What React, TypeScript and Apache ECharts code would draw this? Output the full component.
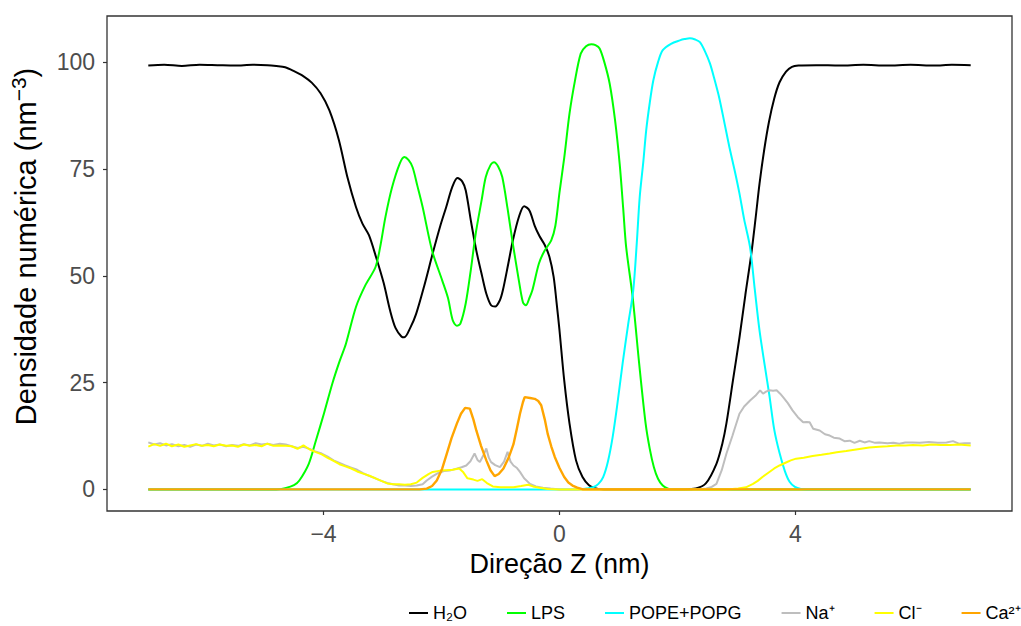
import React, { useEffect, useRef } from "react";
import * as echarts from "echarts";

const seriesNames = ["H₂O", "LPS", "POPE+POPG", "Na⁺", "Cl⁻", "Ca²⁺"];
const seriesColors = ["#000000", "#00FF00", "#00FFFF", "#BEBEBE", "#FFFF00", "#FFA500"];
const seriesWidths = [2, 2, 2, 2, 2, 2.4];
const xTicks = [-4, 0, 4];
const yTicks = [0, 25, 50, 75, 100];

const h2o = [
  [-6.97, 99.2], [-6.7, 99.4], [-6.4, 99.1], [-6.1, 99.4], [-5.8, 99.3], [-5.5, 99.2], [-5.2, 99.4],
  [-4.95, 99.3], [-4.8, 99.1], [-4.65, 98.8], [-4.5, 97.9], [-4.35, 96.8], [-4.2, 95.2], [-4.05, 92.7],
  [-3.9, 88.7], [-3.74, 81.8], [-3.59, 72.8], [-3.45, 66.1], [-3.34, 62.2], [-3.23, 59.5], [-3.11, 54.4],
  [-2.98, 48.3], [-2.87, 41.8], [-2.78, 37.8], [-2.68, 35.8], [-2.63, 35.6], [-2.53, 37.8], [-2.43, 41.1],
  [-2.29, 47.8], [-2.15, 55.2], [-2.02, 61.7], [-1.92, 66.1], [-1.82, 70.7], [-1.73, 72.9], [-1.65, 72.1],
  [-1.59, 70.0], [-1.5, 62.7], [-1.41, 55.9], [-1.31, 49.8], [-1.24, 45.8], [-1.16, 43.1], [-1.09, 42.8],
  [-1.01, 44.3], [-0.96, 46.6], [-0.87, 52.7], [-0.79, 58.3], [-0.69, 63.7], [-0.6, 66.3], [-0.51, 65.3],
  [-0.42, 61.7], [-0.34, 59.3], [-0.25, 57.2], [-0.17, 54.4], [-0.1, 49.8], [-0.05, 43.8], [0, 37.2],
  [0.08, 25.5], [0.17, 15.4], [0.28, 6.8], [0.39, 2.9], [0.5, 1.0], [0.6, 0.3], [0.75, 0], [1.2, 0],
  [1.7, 0], [2.12, 0], [2.31, 0.2], [2.48, 1.4], [2.66, 6.0], [2.76, 10.7], [2.83, 15.5], [2.94, 25.5],
  [3.05, 35.5], [3.15, 45.5], [3.25, 55.0], [3.32, 63.0], [3.39, 71.5], [3.47, 79.5], [3.55, 86.0],
  [3.64, 91.5], [3.73, 95.3], [3.84, 97.8], [3.94, 98.9], [4.05, 99.2], [4.35, 99.3], [4.75, 99.2],
  [5.15, 99.4], [5.55, 99.2], [5.95, 99.4], [6.35, 99.2], [6.65, 99.4], [6.97, 99.3],
];

const lps = [
  [-6.97, 0], [-4.8, 0], [-4.65, 0.3], [-4.5, 1.0], [-4.41, 2.1], [-4.25, 6.0], [-4.13, 11.4],
  [-3.99, 17.9], [-3.85, 24.8], [-3.73, 29.9], [-3.62, 34.1], [-3.45, 42.7], [-3.29, 47.8], [-3.12, 52.0],
  [-3.04, 56.7], [-2.95, 63.8], [-2.84, 70.6], [-2.71, 76.2], [-2.63, 77.8], [-2.56, 77.1], [-2.49, 75.4],
  [-2.41, 71.1], [-2.32, 66.1], [-2.16, 55.9], [-1.99, 49.0], [-1.89, 44.8], [-1.81, 39.6], [-1.74, 38.3],
  [-1.68, 38.8], [-1.59, 43.5], [-1.5, 51.7], [-1.42, 59.9], [-1.32, 67.7], [-1.25, 73.1], [-1.17, 75.9],
  [-1.11, 76.6], [-1.04, 75.6], [-0.97, 73.1], [-0.88, 65.7], [-0.8, 58.3], [-0.69, 49.0], [-0.62, 43.8],
  [-0.57, 43.1], [-0.51, 44.8], [-0.46, 46.6], [-0.35, 52.8], [-0.26, 55.7], [-0.14, 58.3], [-0.07, 61.7],
  [0, 69.5], [0.08, 77.6], [0.17, 88.0], [0.26, 95.5], [0.36, 102.0], [0.45, 103.7], [0.54, 104.2],
  [0.61, 104.0], [0.68, 103.2], [0.76, 100.0], [0.85, 95.0], [0.94, 86.6], [1.02, 76.2], [1.08, 65.7],
  [1.13, 56.7], [1.24, 45.0], [1.35, 29.5], [1.46, 15.4], [1.53, 9.5], [1.6, 5.2], [1.67, 2.5],
  [1.75, 0.9], [1.84, 0.2], [1.92, 0], [6.97, 0],
];

const pope = [
  [-6.97, 0], [0.3, 0], [0.45, 0.2], [0.57, 0.5], [0.66, 1.3], [0.74, 2.9], [0.82, 6.5], [0.9, 12.2],
  [0.98, 19.9], [1.07, 29.5], [1.16, 38.3], [1.25, 46.6], [1.31, 57.7], [1.36, 68.5], [1.42, 76.6],
  [1.47, 84.1], [1.53, 90.5], [1.59, 95.7], [1.67, 100.0], [1.75, 102.8], [1.89, 104.3], [2.04, 105.1],
  [2.12, 105.4], [2.21, 105.6], [2.3, 105.3], [2.38, 104.7], [2.46, 102.7], [2.55, 99.7], [2.63, 95.8],
  [2.71, 91.5], [2.8, 85.5], [2.88, 80.1], [2.97, 74.6], [3.05, 69.3], [3.13, 63.2], [3.23, 56.7],
  [3.31, 46.8], [3.39, 37.2], [3.48, 28.9], [3.56, 21.8], [3.64, 14.0], [3.73, 8.5], [3.82, 4.3],
  [3.9, 1.8], [3.99, 0.6], [4.09, 0.1], [4.2, 0], [6.97, 0],
];

const sodium = [
  [-6.97, 11.0], [-6.87, 10.5], [-6.77, 10.8], [-6.67, 10.3], [-6.57, 10.6], [-6.46, 10.1], [-6.36, 10.4],
  [-6.26, 10.0], [-6.16, 10.5], [-6.06, 10.2], [-5.96, 10.7], [-5.86, 10.3], [-5.76, 10.5], [-5.65, 10.1],
  [-5.55, 10.4], [-5.45, 10.2], [-5.35, 10.6], [-5.25, 10.3], [-5.15, 10.8], [-5.05, 10.5], [-4.95, 10.7],
  [-4.85, 10.4], [-4.74, 10.7], [-4.64, 10.5], [-4.54, 10.1], [-4.44, 9.7], [-4.34, 10.0], [-4.24, 9.5],
  [-4.14, 8.9], [-4.03, 8.4], [-3.93, 7.7], [-3.83, 6.8], [-3.73, 6.2], [-3.63, 5.6], [-3.53, 5.1],
  [-3.43, 4.6], [-3.33, 3.8], [-3.22, 3.1], [-3.12, 2.6], [-3.02, 2.0], [-2.92, 1.5], [-2.82, 1.2],
  [-2.72, 0.9], [-2.62, 0.9], [-2.52, 0.8], [-2.42, 0.9], [-2.32, 1.2], [-2.25, 2.1], [-2.16, 3.0],
  [-2.06, 3.8], [-1.96, 4.3], [-1.86, 4.4], [-1.76, 4.8], [-1.66, 5.2], [-1.58, 5.6], [-1.51, 6.6],
  [-1.44, 8.4], [-1.39, 6.9], [-1.35, 6.4], [-1.29, 8.0], [-1.24, 9.6], [-1.2, 7.5], [-1.16, 6.4],
  [-1.09, 5.7], [-1.01, 5.2], [-0.94, 6.5], [-0.88, 8.8], [-0.83, 6.5], [-0.78, 5.6], [-0.72, 5.0],
  [-0.67, 4.1], [-0.6, 2.6], [-0.5, 1.3], [-0.4, 0.7], [-0.28, 0.4], [-0.15, 0.2], [0, 0], [2.35, 0],
  [2.49, 0.2], [2.58, 0.6], [2.66, 1.3], [2.75, 4.5], [2.83, 8.4], [2.93, 12.5], [3.05, 17.7],
  [3.13, 19.4], [3.23, 20.8], [3.32, 21.9], [3.4, 23.2], [3.45, 22.4], [3.5, 22.9], [3.56, 23.2],
  [3.62, 23.1], [3.68, 23.2], [3.74, 22.4], [3.79, 21.6], [3.87, 20.2], [3.95, 18.5], [4.04, 16.9],
  [4.13, 15.7], [4.19, 15.8], [4.24, 15.7], [4.3, 14.2], [4.41, 13.8], [4.5, 12.9], [4.58, 12.6],
  [4.65, 12.1], [4.75, 11.9], [4.83, 11.3], [4.92, 11.4], [5.0, 10.9], [5.09, 11.4], [5.17, 11.0],
  [5.25, 11.3], [5.35, 10.9], [5.42, 11.0], [5.56, 10.8], [5.66, 10.9], [5.76, 10.7], [5.86, 11.0],
  [5.99, 11.0], [6.11, 10.9], [6.26, 11.1], [6.41, 10.9], [6.56, 11.0], [6.67, 11.3], [6.77, 10.7],
  [6.87, 10.8], [6.97, 10.8],
];

const chloride = [
  [-6.97, 10.0], [-6.87, 10.6], [-6.77, 10.2], [-6.67, 10.7], [-6.57, 10.1], [-6.46, 10.5], [-6.36, 10.0],
  [-6.26, 10.3], [-6.16, 10.6], [-6.06, 10.2], [-5.96, 10.4], [-5.86, 10.1], [-5.76, 10.5], [-5.65, 10.2],
  [-5.55, 10.3], [-5.45, 10.0], [-5.35, 10.5], [-5.25, 10.2], [-5.15, 10.4], [-5.05, 10.1], [-4.95, 10.7],
  [-4.85, 10.2], [-4.74, 10.3], [-4.64, 10.2], [-4.54, 10.1], [-4.44, 9.5], [-4.34, 10.3], [-4.24, 9.4],
  [-4.14, 8.8], [-4.03, 8.2], [-3.93, 7.4], [-3.83, 6.7], [-3.73, 5.9], [-3.63, 5.4], [-3.53, 4.9],
  [-3.43, 4.2], [-3.33, 3.7], [-3.22, 3.2], [-3.12, 2.6], [-3.02, 2.0], [-2.92, 1.4], [-2.82, 1.2],
  [-2.72, 1.2], [-2.62, 1.1], [-2.52, 1.2], [-2.42, 1.6], [-2.32, 2.7], [-2.22, 3.6], [-2.15, 4.1],
  [-2.02, 4.4], [-1.92, 4.5], [-1.81, 4.6], [-1.7, 4.9], [-1.63, 4.0], [-1.56, 2.6], [-1.46, 2.3],
  [-1.39, 2.0], [-1.31, 2.4], [-1.23, 1.5], [-1.13, 0.7], [-1.0, 0.5], [-0.9, 0.5], [-0.78, 0.5],
  [-0.65, 0.8], [-0.53, 1.1], [-0.45, 0.7], [-0.34, 0.4], [-0.2, 0.1], [0, 0], [2.83, 0], [3.03, 0.2],
  [3.16, 0.5], [3.28, 1.3], [3.36, 2.0], [3.44, 2.9], [3.54, 3.9], [3.64, 4.9], [3.73, 5.6], [3.84, 6.3],
  [3.92, 6.8], [4.01, 7.2], [4.14, 7.4], [4.29, 7.8], [4.44, 8.1], [4.58, 8.4], [4.7, 8.7], [4.86, 9.0],
  [5.0, 9.3], [5.14, 9.6], [5.25, 9.8], [5.42, 10.0], [5.56, 10.1], [5.71, 10.3], [5.86, 10.3],
  [5.99, 10.4], [6.16, 10.3], [6.31, 10.5], [6.46, 10.4], [6.62, 10.4], [6.77, 10.5], [6.97, 10.3],
];

const calcium = [
  [-6.97, 0], [-2.37, 0], [-2.25, 0.2], [-2.16, 0.8], [-2.08, 2.1], [-1.99, 4.8], [-1.91, 8.4],
  [-1.83, 12.0], [-1.74, 15.4], [-1.67, 17.7], [-1.6, 19.1], [-1.52, 18.9], [-1.46, 16.4], [-1.41, 13.8],
  [-1.33, 10.2], [-1.24, 6.8], [-1.17, 4.5], [-1.1, 3.1], [-1.03, 3.6], [-0.95, 4.9], [-0.86, 7.5],
  [-0.78, 10.6], [-0.72, 14.4], [-0.67, 17.7], [-0.62, 20.4], [-0.59, 21.6], [-0.5, 21.4], [-0.42, 21.2],
  [-0.36, 20.7], [-0.31, 19.7], [-0.25, 16.4], [-0.2, 13.0], [-0.14, 10.1], [-0.08, 7.6], [0, 5.0],
  [0.08, 2.9], [0.15, 1.6], [0.22, 0.9], [0.3, 0.4], [0.4, 0], [6.97, 0],
];

const seriesData = [h2o, lps, pope, sodium, chloride, calcium];
const smoothFlags = [0.3, 0.3, 0.3, false, false, false];

const FONT = "'Liberation Sans', Arial, Helvetica, sans-serif";

export default function App() {
  const ref = useRef<HTMLDivElement>(null);
  useEffect(() => {
    if (!ref.current) return;
    const chart = echarts.init(ref.current, null, { renderer: "svg" });
    chart.setOption({
      animation: false,
      backgroundColor: "#ffffff",
      textStyle: { fontFamily: FONT },
      grid: {
        left: 107,
        right: 9,
        top: 16,
        bottom: 115,
        show: true,
        borderColor: "#333333",
        borderWidth: 1.3,
        backgroundColor: "transparent",
      },
      legend: {
        left: 409,
        top: 604,
        orient: "horizontal",
        icon: "rect",
        itemWidth: 19,
        itemHeight: 2,
        itemGap: 40,
        padding: 0,
        textStyle: { fontSize: 18, color: "#000000", fontFamily: FONT },
        data: seriesNames,
      },
      xAxis: {
        type: "value",
        min: -7.67,
        max: 7.67,
        name: "Direção Z (nm)",
        nameLocation: "middle",
        nameGap: 39,
        nameTextStyle: { fontSize: 27, color: "#000000", fontFamily: FONT },
        axisLine: { show: false, onZero: false },
        splitLine: { show: false },
        axisTick: {
          show: true,
          length: 4,
          lineStyle: { color: "#333333", width: 1.2 },
          customValues: xTicks,
        },
        axisLabel: {
          fontSize: 23,
          color: "#4D4D4D",
          margin: 11,
          customValues: xTicks,
          formatter: (v: number) => (v < 0 ? "−" + Math.abs(v) : String(v)),
        },
      },
      yAxis: {
        type: "value",
        min: -5.05,
        max: 110.8,
        name: "{p|}{a|Densidade numérica (nm}{s|−3}{a|)}",
        nameLocation: "middle",
        nameGap: 63,
        nameTextStyle: {
          fontSize: 29,
          color: "#000000",
          fontFamily: FONT,
          rich: {
            p: { width: 34, fontSize: 29, lineHeight: 36 },
            a: { fontSize: 29, lineHeight: 36, color: "#000000", fontFamily: FONT },
            s: { fontSize: 21, lineHeight: 21, verticalAlign: "top", color: "#000000", fontFamily: FONT },
          },
        },
        axisLine: { show: false, onZero: false },
        splitLine: { show: false },
        axisTick: {
          show: true,
          length: 4,
          lineStyle: { color: "#333333", width: 1.2 },
          customValues: yTicks,
        },
        axisLabel: {
          fontSize: 23,
          color: "#4D4D4D",
          margin: 12,
          customValues: yTicks,
        },
      },
      series: seriesNames.map((name, i) => ({
        name,
        type: "line",
        data: seriesData[i],
        showSymbol: false,
        symbol: "none",
        smooth: smoothFlags[i],
        color: seriesColors[i],
        lineStyle: { color: seriesColors[i], width: seriesWidths[i] },
        z: 10 * (i + 1),
      })),
    });
    return () => chart.dispose();
  }, []);
  return <div ref={ref} style={{ width: 1021, height: 626, position: "absolute", left: 0, top: 0 }} />;
}
